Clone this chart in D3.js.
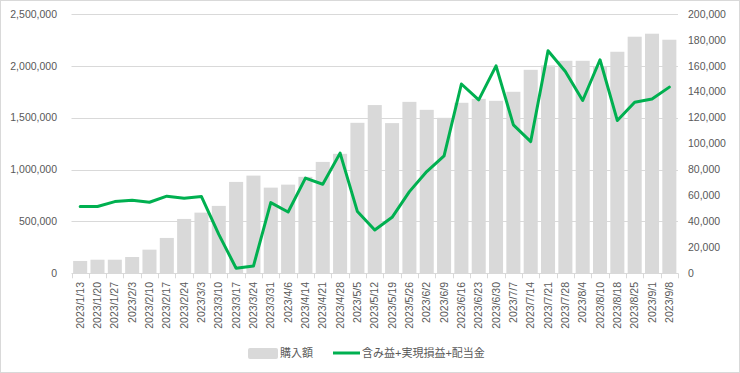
<!DOCTYPE html>
<html><head><meta charset="utf-8">
<script src="https://cdn.jsdelivr.net/npm/d3@7"></script>
<style>body{margin:0;background:#fff}svg{display:block}</style>
</head><body>
<svg id="c" width="740" height="373"></svg>
<script>
const categories = ["2023/1/13","2023/1/20","2023/1/27","2023/2/3","2023/2/10","2023/2/17","2023/2/24","2023/3/3","2023/3/10","2023/3/17","2023/3/24","2023/3/31","2023/4/6","2023/4/14","2023/4/21","2023/4/28","2023/5/5","2023/5/12","2023/5/19","2023/5/26","2023/6/2","2023/6/9","2023/6/16","2023/6/23","2023/6/30","2023/7/7","2023/7/14","2023/7/21","2023/7/28","2023/8/4","2023/8/10","2023/8/18","2023/8/25","2023/9/1","2023/9/8"];
const purchase = [119000,131000,131000,157000,228000,341000,524000,585000,650000,881000,942000,826000,855000,930000,1074000,1152000,1451000,1622000,1448000,1653000,1576000,1499000,1644000,1682000,1663000,1750000,1962000,2004000,2049000,2049000,1995000,2136000,2281000,2310000,2252000];
const profit = [51500,51500,55300,56400,54800,59500,57900,59200,30000,3900,5600,54500,47300,73400,68700,92700,47600,33400,43200,63000,78500,90600,146000,133800,160000,114500,101600,171700,155700,133300,164700,117800,132000,134400,143600];
const leftTicks = [0,500000,1000000,1500000,2000000,2500000];
const rightTicks = [0,20000,40000,60000,80000,100000,120000,140000,160000,180000,200000];
const seriesNames = ["購入額","含み益+実現損益+配当金"];

const svg = d3.select("#c");
const font = "'Liberation Sans', 'Noto Sans CJK JP', sans-serif";
const txt = "#595959", grid = "#d9d9d9";
svg.append("rect").attr("x",0.5).attr("y",0.5).attr("width",739).attr("height",372)
  .attr("fill","#fff").attr("stroke","#d9d9d9");

const L = 71.5, R = 678, T = 14, B = 273.3;
const x = d3.scaleBand().domain(categories).range([L,R]).paddingInner(0.19).paddingOuter(0.095);
const yL = d3.scaleLinear().domain([0,2500000]).range([B,T]);
const yR = d3.scaleLinear().domain([0,200000]).range([B,T]);

// gridlines
svg.append("g").selectAll("line").data(leftTicks.slice(1)).join("line")
  .attr("x1",L).attr("x2",R).attr("y1",d=>Math.round(yL(d))+0.5).attr("y2",d=>Math.round(yL(d))+0.5)
  .attr("stroke",grid).attr("stroke-width",1);

// bars
svg.append("g").selectAll("rect").data(purchase).join("rect")
  .attr("x",(d,i)=>x(categories[i])).attr("width",x.bandwidth())
  .attr("y",d=>yL(d)).attr("height",d=>B-yL(d)).attr("fill","#d9d9d9");

// x axis line & ticks
const step = x.step();
svg.append("line").attr("x1",L).attr("x2",R).attr("y1",Math.round(B)+0.5).attr("y2",Math.round(B)+0.5).attr("stroke","#d9d9d9");
svg.append("g").selectAll("line").data(d3.range(categories.length+1)).join("line")
  .attr("x1",i=>Math.round(L+i*(R-L)/categories.length)+0.5).attr("x2",i=>Math.round(L+i*(R-L)/categories.length)+0.5)
  .attr("y1",B).attr("y2",B+5).attr("stroke","#d9d9d9");

// line
const line = d3.line().x((d,i)=>x(categories[i])+x.bandwidth()/2).y(d=>yR(d));
svg.append("path").datum(profit).attr("d",line).attr("fill","none")
  .attr("stroke","#00b050").attr("stroke-width",3).attr("stroke-linejoin","round").attr("stroke-linecap","round");

// left axis labels
svg.append("g").selectAll("text").data(leftTicks).join("text")
  .attr("x",57).attr("y",d=>yL(d)).attr("dy","0.35em").attr("text-anchor","end")
  .attr("font-family",font).attr("font-size",10.5).attr("fill",txt)
  .text(d=>d3.format(",")(d));
// right axis labels
svg.append("g").selectAll("text").data(rightTicks).join("text")
  .attr("x",688).attr("y",d=>yR(d)).attr("dy","0.35em").attr("text-anchor","start")
  .attr("font-family",font).attr("font-size",10.5).attr("fill",txt)
  .text(d=>d3.format(",")(d));
// x labels
svg.append("g").selectAll("text").data(categories).join("text")
  .attr("transform",d=>`translate(${x(d)+x.bandwidth()/2+3.5},282) rotate(-90)`)
  .attr("text-anchor","end")
  .attr("font-family",font).attr("font-size",10.5).attr("fill",txt)
  .text(d=>d);

// legend
const lg = svg.append("g");
lg.append("rect").attr("x",248).attr("y",348).attr("width",30).attr("height",11).attr("rx",2).attr("fill","#d9d9d9");
lg.append("text").attr("x",280).attr("y",353.5).attr("dy","0.35em").attr("font-family",font).attr("font-size",11).attr("fill",txt).text(seriesNames[0]);
lg.append("line").attr("x1",333).attr("x2",360).attr("y1",353).attr("y2",353).attr("stroke","#00b050").attr("stroke-width",3);
lg.append("text").attr("x",362).attr("y",353.5).attr("dy","0.35em").attr("font-family",font).attr("font-size",11).attr("fill",txt).text(seriesNames[1]);
</script>
</body></html>
